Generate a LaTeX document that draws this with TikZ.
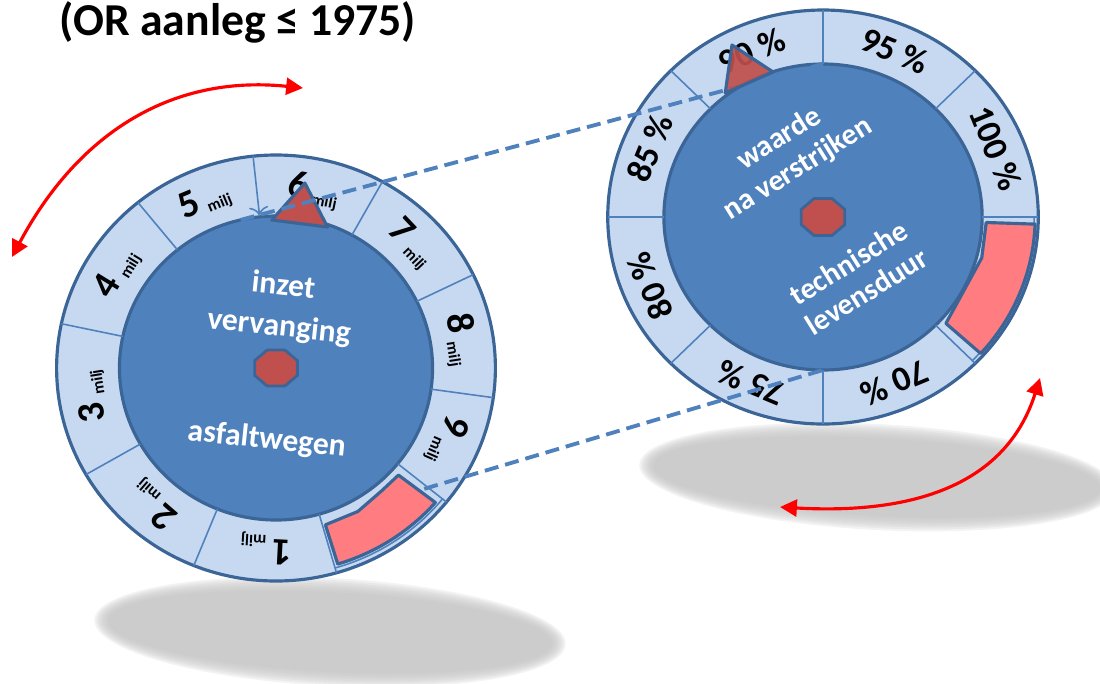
\documentclass[tikz,border=0pt]{standalone}
\usepackage{fontspec}
\setmainfont{Carlito}
\usetikzlibrary{arrows.meta}
\definecolor{ringblue}{HTML}{C6D9F1}
\definecolor{dialblue}{HTML}{4F81BD}
\definecolor{rimblue}{HTML}{3B6596}
\definecolor{pinred}{HTML}{C0504D}
\definecolor{windowpink}{HTML}{FF7C80}
\definecolor{shadowgray}{HTML}{C2C2C2}
\newcommand{\milj}{\raisebox{-1pt}{\fontsize{4.6}{5}\selectfont milj}}
\begin{document}
\begin{tikzpicture}[x=0.1mm,y=0.1mm,
  ring/.style={fill=ringblue,draw=rimblue,line width=0.9pt},
  face/.style={fill=dialblue,draw=rimblue,line width=0.9pt},
  tick/.style={draw=dialblue,line width=0.45pt},
  hub/.style={fill=pinred,draw=rimblue,line width=0.8pt},
  pointer/.style={fill=pinred,draw=rimblue,line width=0.9pt,line join=round},
  window/.style={fill=windowpink,draw=rimblue,line width=0.9pt,line join=round},
  num/.style={font=\bfseries\fontsize{10}{12}\selectfont,inner sep=0pt},
  bignum/.style={font=\bfseries\fontsize{11}{12}\selectfont,inner sep=0pt},
  facetext/.style={font=\bfseries\fontsize{9}{11.7}\selectfont,text=white,align=center,inner sep=0pt},
  link/.style={draw=dialblue,line width=1.1pt,dash pattern=on 4pt off 2pt},
  spin/.style={draw=red,line width=0.9pt,{Triangle[length=4.8pt,width=4.8pt]}-{Triangle[length=4.8pt,width=4.8pt]}}]
  \useasboundingbox (0,0) rectangle (1100,-683);

  \foreach \k in {0,...,7}
    \fill[shadowgray,opacity=0.2,rotate around={-3:(330,-632)}] (330,-632) ellipse [x radius=236-2*\k, y radius=54-2*\k];
  \foreach \k in {0,...,7}
    \fill[shadowgray,opacity=0.2,rotate around={-3:(877,-477)}] (877,-477) ellipse [x radius=238-2*\k, y radius=53-2*\k];

  \node[font=\bfseries\fontsize{13}{15}\selectfont,anchor=base] (title) at (238,-35) {(OR aanleg ≤ 1975)};

  \begin{scope}[shift={(276,-368)},xscale=1.03]
    \draw[ring] (0,0) circle [radius=213];
    \draw[face] (0,0) circle [radius=152];
    \foreach \a in {168,129,61,26,-8,-39,-74,-112,-150}
      \draw[tick] (\a:152) -- (\a:213);
    \draw[tick,->] (96:213) -- (96:153);
    \draw[tick] (-39:208) arc [start angle=-39,end angle=-74,radius=208];
    \draw[window] (-42:160) -- (-41:205) arc [start angle=-41,end angle=-73,radius=205] -- (-73:164) -- (-61:164) -- (-50:160) -- cycle;
    \draw[hub,xscale=1.15] (22.5:19.5) -- (67.5:19.5) -- (112.5:19.5) -- (157.5:19.5) -- (202.5:19.5) -- (247.5:19.5) -- (292.5:19.5) -- (337.5:19.5) -- cycle;
    \node[facetext,rotate=-6] (inzet) at (5,61) {inzet\\vervanging};
    \node[facetext,rotate=-6] (asfalt) at (-9,-72) {asfaltwegen};
    \node[bignum,rotate=-183] (m1) at (-93:181) {1\,\milj};
    \node[bignum,rotate=-221] (m2) at (-131:181) {2\,\milj};
    \node[bignum,rotate=-261] (m3) at (-171:181) {3\,\milj};
    \node[bignum,rotate=58.5] (m4) at (148.5:181) {4\,\milj};
    \node[bignum,rotate=22.5] (m5) at (112.5:181) {5\,\milj};
    \node[bignum,rotate=-11.5] (m6) at (78.5:181) {6\,\milj};
    \node[bignum,rotate=-46.5] (m7) at (43.5:181) {7\,\milj};
    \node[bignum,rotate=-81] (m8) at (9:181) {8\,\milj};
    \node[bignum,rotate=-113.5] (m9) at (-23.5:181) {9\,\milj};
    \coordinate (lnkA) at (103:152);
    \coordinate (lnkC) at (-40:188);
    \draw[pointer] (-4,148) -- (28,185) -- (50,141) -- cycle;
  \end{scope}

  \begin{scope}[shift={(823,-217)},xscale=1.04]
    \draw[ring] (0,0) circle [radius=207];
    \draw[face] (0,0) circle [radius=153];
    \foreach \a in {0,45,...,315}
      \draw[tick] (\a:153) -- (\a:207);
    \draw[tick] (0:203) arc [start angle=0,end angle=-45,radius=203];
    \draw[window] (-2:157) -- (-2:204) arc [start angle=-2,end angle=-42,radius=204] -- (-42:159) -- (-15:158) -- cycle;
    \draw[hub,xscale=1.13] (22.5:20) -- (67.5:20) -- (112.5:20) -- (157.5:20) -- (202.5:20) -- (247.5:20) -- (292.5:20) -- (337.5:20) -- cycle;
    \node[facetext,font=\bfseries\fontsize{8.5}{10}\selectfont,rotate=32] (waarde) at (-33,63) {waarde\\na verstrijken};
    \node[facetext,font=\bfseries\fontsize{8.5}{9.6}\selectfont,rotate=32] (duur) at (33,-60) {technische\\levensduur};
    \node[num,rotate=202.5] (p70) at (-67.5:180) {70 \%};
    \node[num,rotate=157.5] (p75) at (-112.5:180) {75 \%};
    \node[num,rotate=112.5] (p80) at (-157.5:180) {80 \%};
    \node[num,rotate=67.5] (p85) at (157.5:180) {85 \%};
    \node[num,rotate=22.5] (p90) at (112.5:180) {90 \%};
    \node[num,rotate=-22.5] (p95) at (67.5:180) {95 \%};
    \node[num,rotate=-67.5] (p100) at (22.5:180) {100 \%};
    \coordinate (lnkB) at (90:153);
    \coordinate (lnkD) at (-90:153);
    \draw[link] (lnkA) -- (lnkB);
    \draw[link] (lnkC) -- (lnkD);
    \draw[pointer,fill opacity=0.92] (-87.5,172) -- (-48,145) -- (-94,124) -- cycle;
  \end{scope}

  \coordinate (spinA) at (12,-257);
  \coordinate (spinB) at (303,-88);
  \coordinate (spinC) at (780,-507);
  \coordinate (spinD) at (1040,-378);
  \draw[spin] (spinA) .. controls (76,-137) and (168,-74) .. (spinB);
  \draw[spin] (spinC) .. controls (900,-514) and (1004,-492) .. (spinD);
\end{tikzpicture}
\end{document}
